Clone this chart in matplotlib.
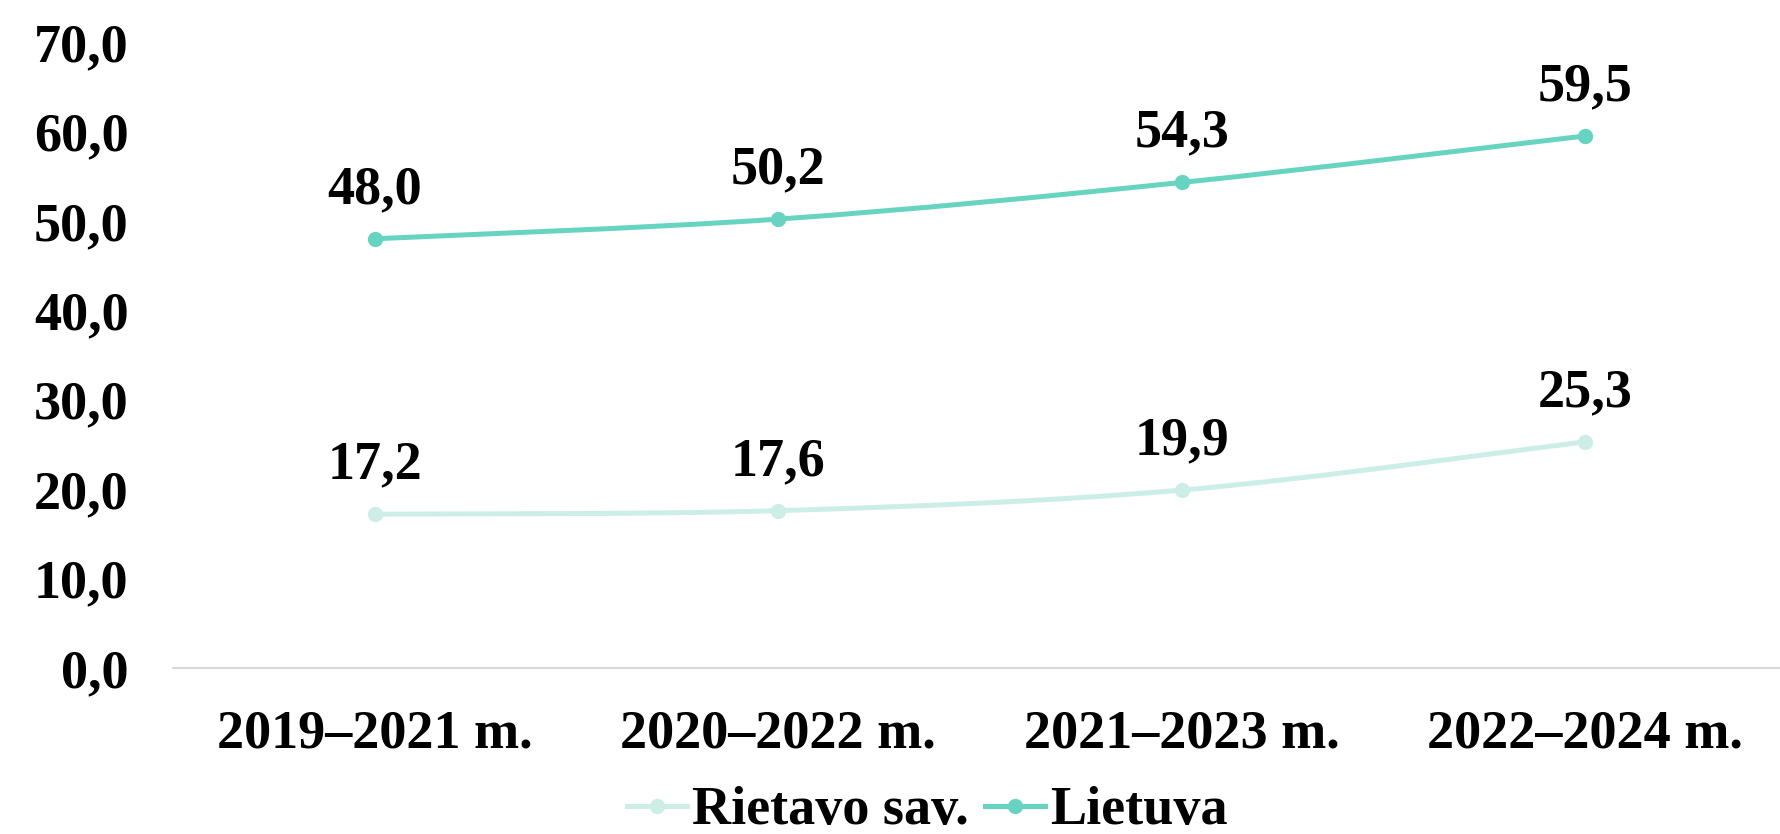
import matplotlib
matplotlib.use("Agg")
import matplotlib.pyplot as plt
from matplotlib.path import Path
from matplotlib.patches import PathPatch
from matplotlib.lines import Line2D
import numpy as np

categories = ["2019–2021 m.", "2020–2022 m.", "2021–2023 m.", "2022–2024 m."]
rietavo = [17.2, 17.6, 19.9, 25.3]
lietuva = [48.0, 50.2, 54.3, 59.5]
series_names = ["Rietavo sav.", "Lietuva"]
yticks = [0, 10, 20, 30, 40, 50, 60, 70]

c_riet = "#CDEEE6"
c_liet = "#66D4C0"

plt.rcParams['font.family'] = ['Liberation Serif', 'DejaVu Serif']
plt.rcParams['font.weight'] = 'bold'
FS = 39

fig = plt.figure(figsize=(17.8, 8.34), dpi=100)
ax = fig.add_axes([0.0972, 0.199, 0.9028 + 0.004, 0.7506])

def smooth_path(xs, ys, t=1/6):
    verts = [(xs[0], ys[0])]
    codes = [Path.MOVETO]
    n = len(xs)
    for i in range(n - 1):
        x0, y0 = (xs[i - 1], ys[i - 1]) if i > 0 else (xs[i], ys[i])
        x1, y1 = xs[i], ys[i]
        x2, y2 = xs[i + 1], ys[i + 1]
        x3, y3 = (xs[i + 2], ys[i + 2]) if i + 2 < n else (xs[i + 1], ys[i + 1])
        c1 = (x1 + (x2 - x0) * t, y1 + (y2 - y0) * t)
        c2 = (x2 - (x3 - x1) * t, y2 - (y3 - y1) * t)
        verts += [c1, c2, (x2, y2)]
        codes += [Path.CURVE4] * 3
    return Path(verts, codes)

x = np.arange(len(categories))
for vals, col in [(rietavo, c_riet), (lietuva, c_liet)]:
    p = smooth_path(list(x), list(vals))
    ax.add_patch(PathPatch(p, facecolor='none', edgecolor=col, lw=3.6,
                           capstyle='round', zorder=3))
    ax.plot(x, vals, ls='none', marker='o', ms=10, color=col, zorder=4)
    for xi, v in zip(x, vals):
        ax.annotate(f"{v:.1f}".replace('.', ','), (xi, v), xytext=(0, 17),
                    textcoords='offset points', ha='center', va='bottom',
                    fontsize=FS, fontweight='bold', color='black')

ax.set_xlim(-0.5, 3.5)
ax.set_ylim(0, 70)
ax.set_yticks(yticks)
ax.set_yticklabels([f"{v:.1f}".replace('.', ',') for v in yticks], fontsize=FS, fontweight='bold')
ax.set_xticks(x)
ax.set_xticklabels(categories, fontsize=FS, fontweight='bold')
ax.tick_params(axis='y', length=0, pad=32)
ax.tick_params(axis='x', length=0, pad=30)
for s in ['top', 'right', 'left']:
    ax.spines[s].set_visible(False)
ax.spines['bottom'].set_color('#D9D9D9')
ax.spines['bottom'].set_linewidth(1.5)

handles = [Line2D([0], [0], color=c, lw=3.6, marker='o', ms=10) for c in (c_riet, c_liet)]
fig.legend(handles, series_names, loc='center', bbox_to_anchor=(0.521, 0.027),
           ncol=2, frameon=False, handlelength=1.1, handletextpad=0.1,
           columnspacing=0.3, prop={'weight': 'bold', 'size': FS})

fig.savefig("out.png", dpi=100)
